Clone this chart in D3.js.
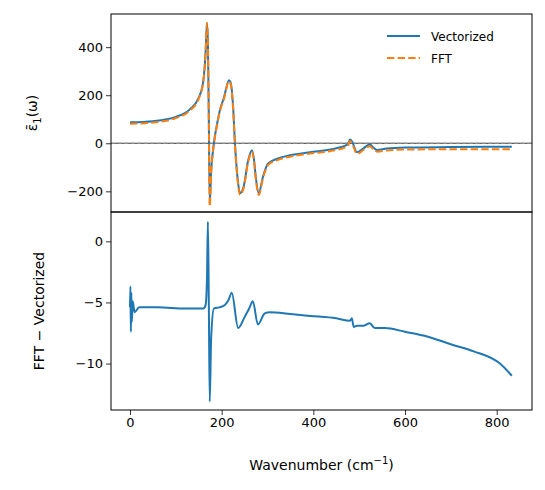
<!DOCTYPE html>
<html>
<head>
<meta charset="utf-8">
<script src="https://cdn.jsdelivr.net/npm/d3@7"></script>
<style>
  body { margin: 0; background: #fff; }
  text { font-family: "DejaVu Sans", sans-serif; }
</style>
</head>
<body>
<svg id="chart" width="545" height="490"></svg>
<script>
// wavenumbers for the top panel
const wave = [0, 50, 100, 130, 150, 160, 165, 168, 170, 172, 174, 177, 183, 190, 196, 205, 216, 220, 225, 229, 235, 240, 248, 258, 266, 270, 275, 281, 290, 301, 320, 349, 393, 440, 475, 480, 485, 495, 510, 523, 532, 539, 560, 600, 700, 833];
const vectorized = [87, 92, 110, 140, 190, 260, 380, 500, 420, 100, -250, -120, 0, 80, 137, 190, 262, 250, 150, 0, -150, -208, -180, -70, -29, -60, -150, -208, -140, -85, -65, -50, -37, -25, -5, 16, 5, -37, -20, -5, -20, -28, -22, -18, -16, -14];
const fft = [81, 86, 105, 135, 186, 257, 378, 501, 416, 92, -263, -126, -6, 75, 132, 185, 258, 244, 143, -7, -157, -215, -186, -76, -35, -66, -157, -215, -146, -91, -71, -56, -43, -31, -12, 9, -2, -44, -27, -12, -27, -35, -30, -26, -25, -25];

// difference panel
const diffWave = [0, 1, 2, 3, 4, 6, 10, 20, 60, 120, 160, 165, 168, 170, 172, 174, 177, 183, 195, 207, 215, 222, 236, 250, 260, 268, 279, 294, 305, 350, 393, 450, 480, 484, 488, 495, 510, 523, 534, 556, 600, 650, 698, 750, 807, 833];
const diff = [-5.4, -3.7, -7.4, -4.2, -6.6, -4.9, -5.8, -5.4, -5.4, -5.5, -5.5, -5.2, -3, 1.6, -5, -13.1, -8, -5.5, -5.4, -5.2, -4.8, -4.2, -7.1, -6.2, -5.5, -4.9, -6.8, -5.9, -5.8, -5.95, -6.1, -6.3, -6.5, -6.3, -7.0, -6.9, -6.9, -6.7, -7.1, -7.1, -7.4, -7.8, -8.4, -9.0, -10.0, -11.0];

const xTicks = [0, 200, 400, 600, 800];
const topTicks = [-200, 0, 200, 400];
const bottomTicks = [-10, -5, 0];

const svg = d3.select('#chart');
const pLeft = 111, pRight = 532, pTop = 14, pMid = 212, pBottom = 410;
const blue = '#1f77b4', orange = '#ff7f0e';

const x = d3.scaleLinear().domain([-41.4, 877]).range([pLeft, pRight]);
const yTop = d3.scaleLinear().domain([-286, 538]).range([pMid, pTop]);
const yBot = d3.scaleLinear().domain([-13.8, 2.4]).range([pBottom, pMid]);

// zero reference line
svg.append('line')
  .attr('x1', pLeft).attr('x2', pRight)
  .attr('y1', yTop(0)).attr('y2', yTop(0))
  .attr('stroke', '#000').attr('stroke-width', 0.8);
svg.append('line')
  .attr('x1', pLeft).attr('x2', pRight)
  .attr('y1', yTop(0)).attr('y2', yTop(0))
  .attr('stroke', '#888').attr('stroke-width', 1.2)
  .attr('stroke-dasharray', '4.5,2');

const topLine = (ys) => d3.line()
  .x((d, i) => x(wave[i]))
  .y(d => yTop(d))
  .curve(d3.curveMonotoneX)(ys);

svg.append('path')
  .attr('d', topLine(vectorized))
  .attr('fill', 'none').attr('stroke', blue).attr('stroke-width', 2);
svg.append('path')
  .attr('d', topLine(fft))
  .attr('fill', 'none').attr('stroke', orange).attr('stroke-width', 2)
  .attr('stroke-dasharray', '7.4,3.2');

svg.append('path')
  .attr('d', d3.line()
    .x((d, i) => x(diffWave[i]))
    .y(d => yBot(d))
    .curve(d3.curveMonotoneX)(diff))
  .attr('fill', 'none').attr('stroke', blue).attr('stroke-width', 2);

// axes
const minus = d => d < 0 ? '\u2212' + (-d) : d;
svg.append('g')
  .attr('transform', 'translate(' + pLeft + ',0)')
  .call(d3.axisLeft(yTop).tickValues(topTicks).tickFormat(minus).tickSize(5).tickSizeOuter(0));
svg.append('g')
  .attr('transform', 'translate(' + pLeft + ',0)')
  .call(d3.axisLeft(yBot).tickValues(bottomTicks).tickFormat(minus).tickSize(5).tickSizeOuter(0));
svg.append('g')
  .attr('transform', 'translate(0,' + pBottom + ')')
  .call(d3.axisBottom(x).tickValues(xTicks).tickSize(5).tickSizeOuter(0));

svg.selectAll('.tick text').attr('font-size', 13).attr('fill', '#000')
  .attr('font-family', '"DejaVu Sans", sans-serif');
svg.selectAll('.tick line').attr('stroke', '#000').attr('stroke-width', 0.8);
svg.selectAll('.domain').remove();

// frames
[[pTop, pMid], [pMid, pBottom]].forEach(([a, b]) => {
  svg.append('rect')
    .attr('x', pLeft).attr('y', a)
    .attr('width', pRight - pLeft).attr('height', b - a)
    .attr('fill', 'none').attr('stroke', '#000').attr('stroke-width', 1);
});

// labels
svg.append('text')
  .attr('x', (pLeft + pRight) / 2).attr('y', 470)
  .attr('text-anchor', 'middle').attr('font-size', 14)
  .html('Wavenumber (cm<tspan font-size="10" dy="-6">\u22121</tspan><tspan dy="6">)</tspan>');
svg.append('text')
  .attr('transform', 'translate(44,' + (pMid + pBottom) / 2 + ') rotate(-90)')
  .attr('text-anchor', 'middle').attr('font-size', 14)
  .text('FFT \u2212 Vectorized');
svg.append('text')
  .attr('transform', 'translate(37,' + (pTop + pMid) / 2 + ') rotate(-90)')
  .attr('text-anchor', 'middle').attr('font-size', 14)
  .html('\u03b5\u0304<tspan font-size="10" dy="4">1</tspan><tspan dy="-4">(\u03c9)</tspan>');

// legend
const legend = [['Vectorized', blue, null], ['FFT', orange, '7.4,3.2']];
legend.forEach(([name, color, dash], i) => {
  const ly = 36 + i * 22;
  svg.append('line')
    .attr('x1', 387).attr('x2', 420).attr('y1', ly).attr('y2', ly)
    .attr('stroke', color).attr('stroke-width', 2)
    .attr('stroke-dasharray', dash);
  svg.append('text')
    .attr('x', 431).attr('y', ly + 4.5)
    .attr('font-size', 12).text(name);
});
</script>
</body>
</html>
